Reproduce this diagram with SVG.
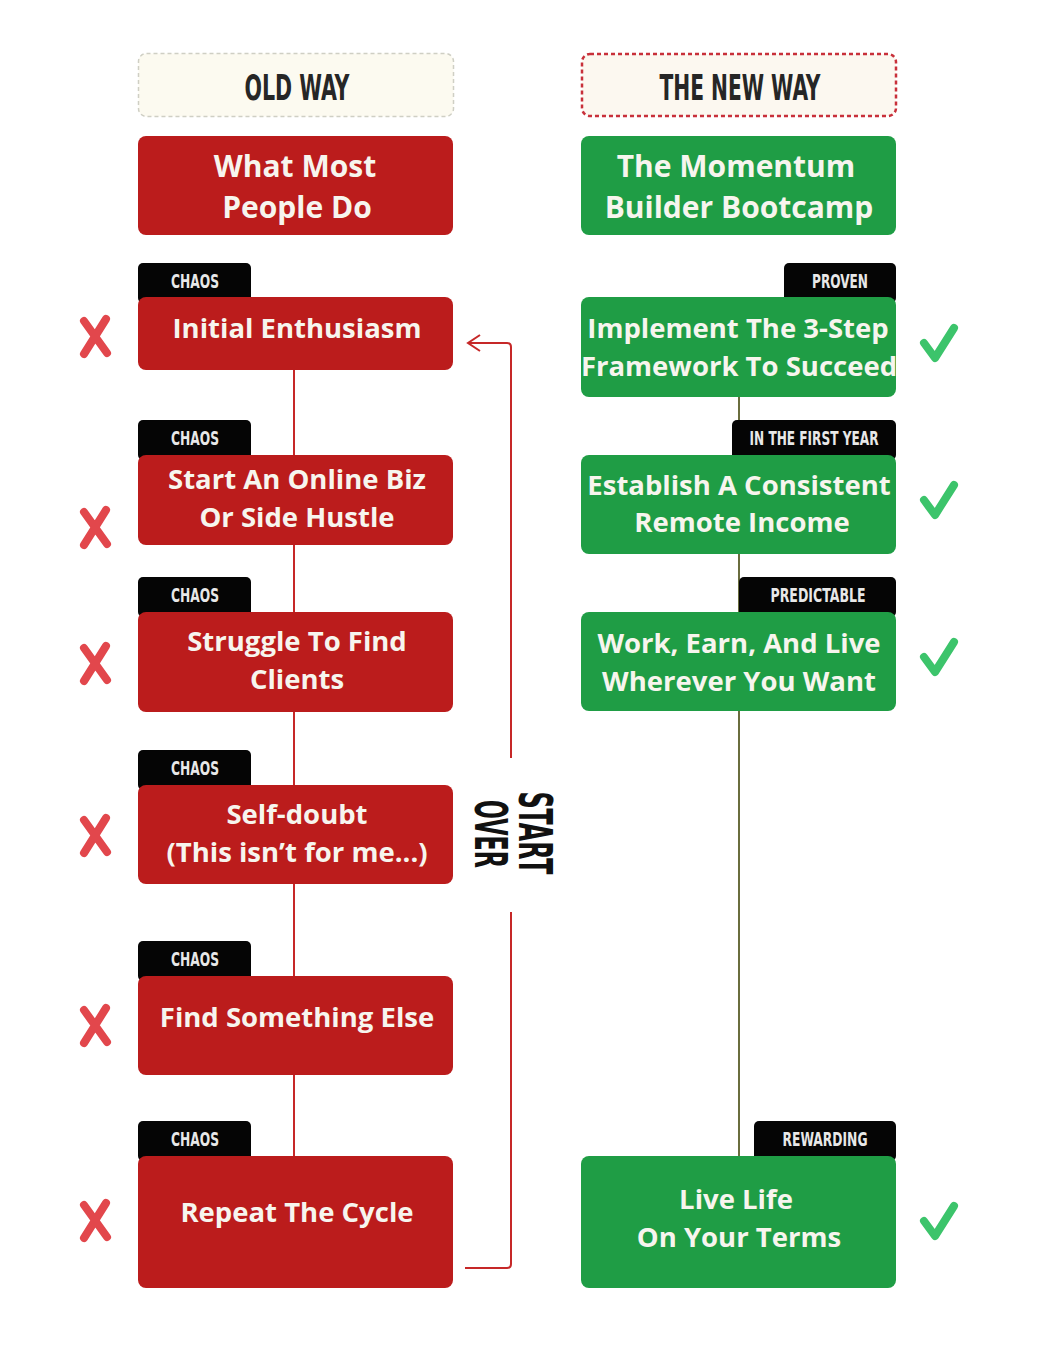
<svg xmlns="http://www.w3.org/2000/svg" width="1046" height="1354" viewBox="0 0 1046 1354">
<style>
.red{fill:#bb1c1c}
.green{fill:#1f9d45}
.tab{fill:#050505}
.t{font-family:"Open Sans","DejaVu Sans",sans-serif;font-weight:700;fill:#f7f5ee;text-anchor:middle}
.tt{font-size:30px}
.nt{font-size:27.5px}
.cond{font-family:"Liberation Sans Narrow","DejaVu Sans Condensed","Liberation Sans",sans-serif;font-weight:700;text-anchor:middle}
.tabt{font-size:19px;fill:#e8e8e8}
.hdr{font-size:36px;fill:#262626}
.cross{stroke:#e2474c;stroke-width:8;stroke-linecap:round;fill:none}
.check{stroke:#3cc46b;stroke-width:8;stroke-linecap:round;stroke-linejoin:round;fill:none}
.conn{stroke:#c62828;stroke-width:2;fill:none}
</style>
<rect width="1046" height="1354" fill="#ffffff"/>
<g id="connectors">
<line class="conn" x1="294" y1="370" x2="294" y2="1156"/>
<line x1="739" y1="397" x2="739" y2="1156" stroke="#6a6d3e" stroke-width="2"/>
<path class="conn" d="M465,1268 H507 Q511,1268 511,1264 V912"/>
<path class="conn" d="M511,758 V347 Q511,343 507,343 H468"/>
<path class="conn" d="M480,335 L468,343 L480,351"/>
</g>
<g id="old-way-header">
<rect x="138.5" y="53.5" width="315" height="63" rx="8" fill="#fcfaf0" stroke="#cfcfc4" stroke-width="1.5" stroke-dasharray="4 3"/>
<text class="cond hdr" x="297" y="100" textLength="105" lengthAdjust="spacingAndGlyphs">OLD WAY</text>
</g>
<g id="new-way-header">
<rect x="582" y="54" width="314" height="62" rx="8" fill="#fcf8f0" stroke="#c8303a" stroke-width="2.5" stroke-dasharray="4 3"/>
<text class="cond hdr" x="740" y="100" textLength="161" lengthAdjust="spacingAndGlyphs">THE NEW WAY</text>
</g>
<g id="old-title">
<rect class="red" x="138" y="136" width="315" height="99" rx="8"/>
<text class="t tt" x="295" y="177">What Most</text>
<text class="t tt" x="297" y="218">People Do</text>
</g>
<g id="new-title">
<rect class="green" x="581" y="136" width="315" height="99" rx="8"/>
<text class="t tt" x="736" y="177">The Momentum</text>
<text class="t tt" x="739" y="218">Builder Bootcamp</text>
</g>
<g id="old-1">
<rect class="tab" x="138" y="263" width="113" height="40" rx="5"/>
<rect class="red" x="138" y="297" width="315" height="73" rx="8"/>
<text class="cond tabt" x="195" y="288" textLength="48" lengthAdjust="spacingAndGlyphs">CHAOS</text>
<text class="t nt" x="297" y="338">Initial Enthusiasm</text>
<path class="cross" d="M84,321 L107,353 M106,319 L84,354"/>
</g>
<g id="old-2">
<rect class="tab" x="138" y="420" width="113" height="40" rx="5"/>
<rect class="red" x="138" y="455" width="315" height="90" rx="8"/>
<text class="cond tabt" x="195" y="445" textLength="48" lengthAdjust="spacingAndGlyphs">CHAOS</text>
<text class="t nt" x="297" y="489">Start An Online Biz</text>
<text class="t nt" x="297" y="527">Or Side Hustle</text>
<path class="cross" d="M84,512 L107,544 M106,510 L84,545"/>
</g>
<g id="old-3">
<rect class="tab" x="138" y="577" width="113" height="40" rx="5"/>
<rect class="red" x="138" y="612" width="315" height="100" rx="8"/>
<text class="cond tabt" x="195" y="602" textLength="48" lengthAdjust="spacingAndGlyphs">CHAOS</text>
<text class="t nt" x="297" y="651">Struggle To Find</text>
<text class="t nt" x="297" y="689">Clients</text>
<path class="cross" d="M84,648 L107,680 M106,646 L84,681"/>
</g>
<g id="old-4">
<rect class="tab" x="138" y="750" width="113" height="40" rx="5"/>
<rect class="red" x="138" y="785" width="315" height="99" rx="8"/>
<text class="cond tabt" x="195" y="775" textLength="48" lengthAdjust="spacingAndGlyphs">CHAOS</text>
<text class="t nt" x="297" y="824">Self-doubt</text>
<text class="t nt" x="297" y="862">(This isn’t for me...)</text>
<path class="cross" d="M84,820 L107,852 M106,818 L84,853"/>
</g>
<g id="old-5">
<rect class="tab" x="138" y="941" width="113" height="40" rx="5"/>
<rect class="red" x="138" y="976" width="315" height="99" rx="8"/>
<text class="cond tabt" x="195" y="966" textLength="48" lengthAdjust="spacingAndGlyphs">CHAOS</text>
<text class="t nt" x="297" y="1027">Find Something Else</text>
<path class="cross" d="M84,1010 L107,1042 M106,1008 L84,1043"/>
</g>
<g id="old-6">
<rect class="tab" x="138" y="1121" width="113" height="40" rx="5"/>
<rect class="red" x="138" y="1156" width="315" height="132" rx="8"/>
<text class="cond tabt" x="195" y="1146" textLength="48" lengthAdjust="spacingAndGlyphs">CHAOS</text>
<text class="t nt" x="297" y="1222">Repeat The Cycle</text>
<path class="cross" d="M84,1205 L107,1237 M106,1203 L84,1238"/>
</g>
<g id="start-over">
<text class="cond" font-size="46" fill="#111" textLength="83" lengthAdjust="spacingAndGlyphs" transform="translate(519,833) rotate(90)">START</text>
<text class="cond" font-size="44" fill="#111" textLength="68" lengthAdjust="spacingAndGlyphs" transform="translate(475,834) rotate(90)">OVER</text>
</g>
<g id="new-1">
<rect class="tab" x="784" y="263" width="112" height="40" rx="5"/>
<rect class="green" x="581" y="297" width="315" height="100" rx="8"/>
<text class="cond tabt" x="840" y="288" textLength="56" lengthAdjust="spacingAndGlyphs">PROVEN</text>
<text class="t nt" x="738" y="338">Implement The 3-Step</text>
<text class="t nt" x="739" y="376">Framework To Succeed</text>
<path class="check" d="M924,343 L935,358 L954,328"/>
</g>
<g id="new-2">
<rect class="tab" x="732" y="420" width="164" height="40" rx="5"/>
<rect class="green" x="581" y="455" width="315" height="99" rx="8"/>
<text class="cond tabt" x="814" y="445" textLength="129" lengthAdjust="spacingAndGlyphs">IN THE FIRST YEAR</text>
<text class="t nt" x="739" y="495">Establish A Consistent</text>
<text class="t nt" x="742" y="532">Remote Income</text>
<path class="check" d="M924,500 L935,515 L954,485"/>
</g>
<g id="new-3">
<rect class="tab" x="739" y="577" width="157" height="40" rx="5"/>
<rect class="green" x="581" y="612" width="315" height="99" rx="8"/>
<text class="cond tabt" x="818" y="602" textLength="95" lengthAdjust="spacingAndGlyphs">PREDICTABLE</text>
<text class="t nt" x="739" y="653">Work, Earn, And Live</text>
<text class="t nt" x="739" y="691">Wherever You Want</text>
<path class="check" d="M924,657 L935,672 L954,642"/>
</g>
<g id="new-4">
<rect class="tab" x="754" y="1121" width="142" height="40" rx="5"/>
<rect class="green" x="581" y="1156" width="315" height="132" rx="8"/>
<text class="cond tabt" x="825" y="1146" font-weight="400" textLength="85" lengthAdjust="spacingAndGlyphs">REWARDING</text>
<text class="t nt" x="736" y="1209">Live Life</text>
<text class="t nt" x="739" y="1247">On Your Terms</text>
<path class="check" d="M924,1221 L935,1236 L954,1206"/>
</g>
</svg>
